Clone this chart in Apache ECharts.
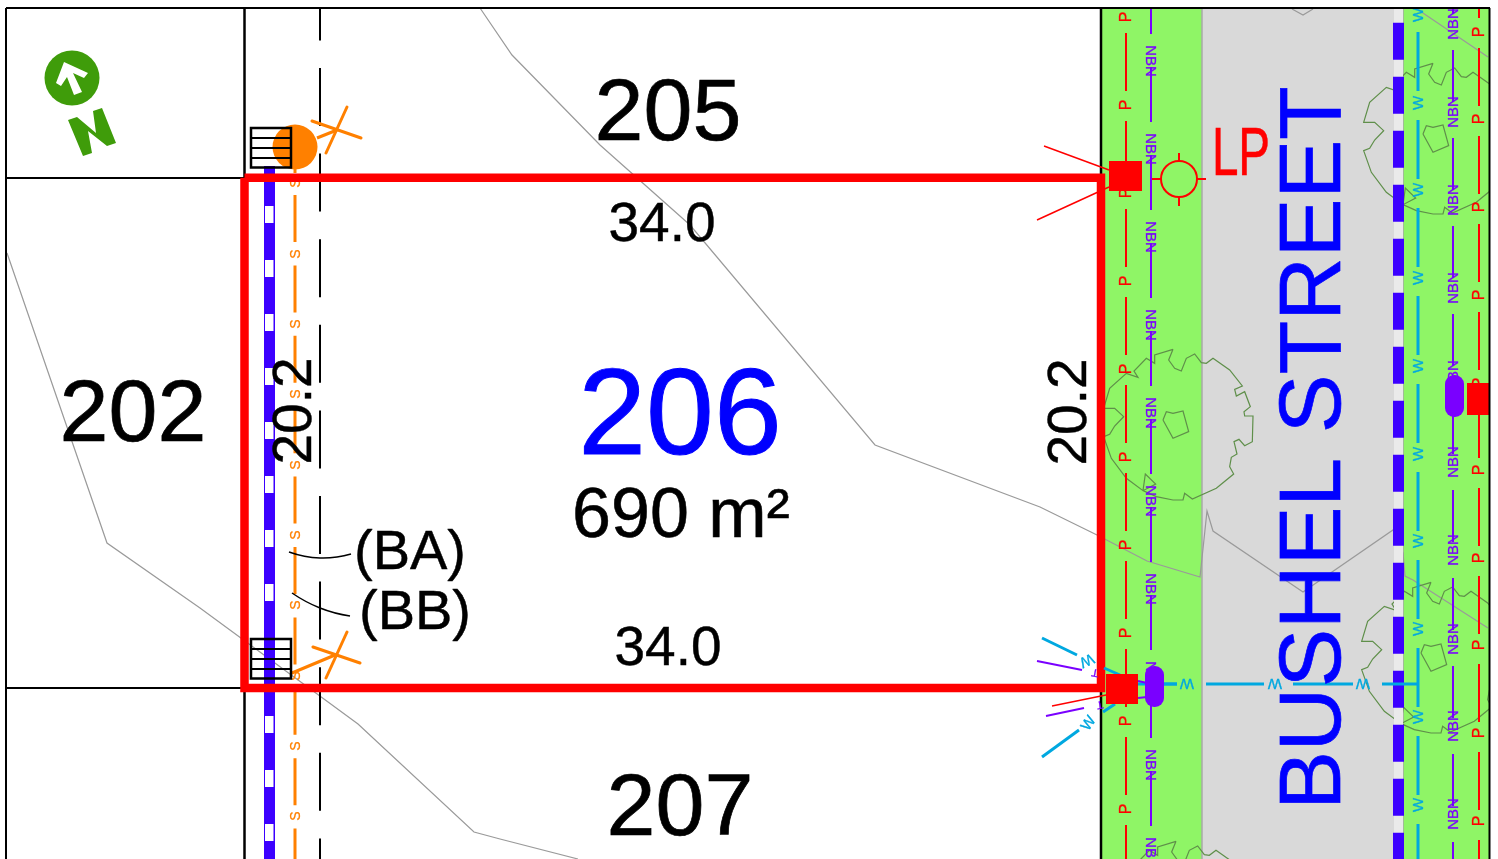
<!DOCTYPE html>
<html><head><meta charset="utf-8">
<style>html,body{margin:0;padding:0;background:#fff}#c{width:1498px;height:859px}</style>
<script src="https://cdn.jsdelivr.net/npm/echarts@6/dist/echarts.min.js"></script>
</head><body><div id="c"></div>
<script>
// ---- site plan data, in the sheet's own coordinates ----
const lotLabels = [['205',668,110],['202',133,411],['207',680,805]];
const frontageLabels = [['34.0',662,222],['34.0',668,646]];
const sideLabels = [['20.2',292,411],['20.2',1067,412]];
const easementLabels = [['(BA)',410,550],['(BB)',415,610]];
const leaderBA = [[289,552],[320,558],[351,554]];
const leaderBB = [[292,593],[320,608],[350,616]];
const lotBoundary = [[244.5,177.7],[1101,177.7],[1101,688],[244.5,688],[244.5,177.7]];
const contourA = [[480,8],[512,55],[600,145],[690,225],[875,445],[1040,507],[1097,535],[1147,561],[1200,577],[1207,511],[1213,531],[1303,592],[1393,530],[1403,553],[1405,576],[1413,580],[1488,628]];
const contourB = [[7,253],[107,543],[200,608],[358,724],[474,832],[500,839],[578,859]];
const contourC = [[1292,9],[1303,15],[1313,9]];
const contourD = [[1417,9],[1488,57]];
const treeOutline = [[520,148],[507,180],[525,205],[545,213],[560,175],[585,162],[605,188],[620,190],[640,175],[690,210],[728,258],[705,268],[710,288],[735,275],[752,320],[733,335],[735,348],[760,348],[758,425],[735,437],[718,418],[703,425],[712,462],[695,472],[690,500],[702,522],[650,565],[578,597],[555,580],[550,600],[520,600],[470,590],[430,572],[437,522],[468,552],[430,572],[380,535],[335,475],[312,410],[330,403],[345,378],[372,350],[345,325],[312,325],[330,265],[380,220],[415,232],[403,213],[440,175],[465,190],[465,165],[520,148]];
const treeCore = [[490,360],[500,335],[520,340],[550,333],[567,395],[520,415],[490,360]];
const treeCentres = [[1178,425],[1438,139],[1436,658],[1181,917]];
const leftP = [17,105,193,281,369,457,545,633,721,809];
const leftNBN = [61,149,237,325,413,501,589,677,765,853];
const rightP = [32,119,207,295,383,470,558,645,733,821];
const rightNBN = [24,112,200,288,376,462,550,639,726,814];
const rightW = [15,103,190,278,366,454,541,629,717,805];
const sewerS = [183,254,324,394,465,535,605,676,746,816];
const serviceW = [[1187,684],[1275,684],[1363,684]];
const blueGapsUpper = [206,260,314,368,422,476,530,584];
const blueGapsLower = [716,770,824];
const compassArrow = [[64,62],[88,73],[84,78],[73,73],[82,92],[74,95],[67,77],[61,86],[56,83]];
const compassN = [[68,120],[77,117],[96,133],[93,111],[102,108],[116,143],[107,146],[88,131],[92,153],[83,156]];

const RED='#ff0000',BLUE='#0000ff',DBLUE='#3c00ff',ORANGE='#ff8000',PUR='#7a00ff',CY='#00a8e0',GRN='#8ff566',GREY='#9a9a9a',TREE='#5f8f4a',COMP='#3f9c0a';
const FF='"Liberation Sans",Arial,sans-serif';

function build(api){
  const c=p=>api.coord(p);
  const out=[];
  const line=(pts,stroke,w,extra)=>out.push({type:'polyline',shape:{points:pts.map(c),smooth:(extra&&extra.smooth)||0},style:Object.assign({stroke,lineWidth:w,fill:null},extra&&extra.style)});
  const dash=(x,y0,d,stroke,w,cap)=>line([[x,y0],[x,900]],stroke,w,{style:{lineDash:d,lineCap:cap||'butt'}});
  const rect=(x0,y0,x1,y1,style,r)=>{const a=c([x0,y0]),b=c([x1,y1]);out.push({type:'rect',shape:{x:a[0],y:a[1],width:b[0]-a[0],height:b[1]-a[1],r:r||0},style})};
  const poly=(pts,fill)=>out.push({type:'polygon',shape:{points:pts.map(c)},style:{fill}});
  const circle=(x,y,r,style)=>{const a=c([x,y]);out.push({type:'circle',shape:{cx:a[0],cy:a[1],r},style})};
  // text is centred on its capital-letter box, so the em box is nudged along the letter's own "down"
  const text=(t,x,y,size,fill,rot,sx)=>{
    const r=rot||0,k=size*0.066;
    const a=c([x+Math.sin(r)*k,y+Math.cos(r)*k]);
    out.push({type:'text',x:a[0],y:a[1],rotation:r,scaleX:sx||1,style:{text:t,font:size+'px '+FF,fill,stroke:fill,lineWidth:Math.max(0.3,size*0.008),align:'center',verticalAlign:'middle',textAlign:'center',textVerticalAlign:'middle'}});
  };
  const UP=Math.PI/2,DOWN=-Math.PI/2;

  // ground
  rect(1101,8,1202,859,{fill:GRN});
  rect(1202,8,1403,859,{fill:'#d9d9d9'});
  rect(1403,8,1490,859,{fill:GRN});
  line([[1202,8],[1202,859]],'#a8a8a8',1.5);
  line([[1403,8],[1403,859]],'#a8a8a8',1.5);
  // contours
  [contourA,contourB,contourC,contourD].forEach(p=>line(p,GREY,1.2));
  // parcels
  line([[6,178],[245,178]],'#000',2);
  line([[6,688],[245,688]],'#000',2);
  line([[244.5,8],[244.5,859]],'#000',2.5);
  line([[1101,8],[1101,859]],'#000',2.5);
  // dashed easement
  dash(320,-17.6,[58,27.6],'#000',2);
  // trees
  treeCentres.forEach(t=>{
    const m=a=>a.map(p=>[t[0]+(p[0]-535)/3,t[1]+(p[1]-375)/3]);
    line(m(treeOutline),TREE,1.2);
    line(m(treeCore),TREE,1.2);
  });
  // left blue main
  rect(264,166,275,859,{fill:DBLUE});
  blueGapsUpper.forEach(y=>rect(265,y,273.5,y+17,{fill:'#fff'}));
  blueGapsLower.forEach(y=>rect(265,y,273.5,y+17,{fill:'#fff'}));
  // right blue main
  line([[1398.5,8],[1398.5,859]],'#eaeaea',9);
  dash(1398.5,22.7,[37,17],DBLUE,11);
  // sewer
  line([[295,168],[295,173]],ORANGE,3);
  dash(295,195,[47,23.4],ORANGE,3);
  sewerS.forEach(y=>text('S',295,y,14,ORANGE,UP));
  // left services
  dash(1126,33,[58,30],RED,2);
  leftP.forEach(y=>text('P',1126,y,16,RED,UP));
  dash(1151,-21,[55,33],PUR,2);
  leftNBN.forEach(y=>text('NBN',1151,y,15,PUR,DOWN));
  // right services
  dash(1418,32,[59,29],CY,3);
  rightW.forEach(y=>text('W',1418,y,15,CY,UP));
  dash(1453,-38,[52,36],PUR,2);
  rightNBN.forEach(y=>text('NBN',1453,y,15,PUR,UP));
  dash(1479,-40,[58,30],RED,2);
  rightP.forEach(y=>text('P',1479,y,16,RED,UP));
  // water service across the road
  [[1163,1177],[1206,1264],[1293,1353],[1382,1418]].forEach(s=>line([[s[0],684],[s[1],684]],CY,3));
  serviceW.forEach(p=>text('W',p[0],p[1],15,CY,Math.PI));
  // lot boundary
  line(lotBoundary,RED,8.5,{style:{lineJoin:'miter'}});
  // stubs at lower corner
  line([[1042,638],[1077,655]],CY,3);
  line([[1104,668],[1120,675]],CY,3);
  line([[1042,757],[1079,730]],CY,3);
  line([[1103,712],[1115,704]],CY,3);
  line([[1037,661],[1082,670]],PUR,2);
  line([[1046,716],[1084,708]],PUR,2);
  line([[1052,706],[1106,695]],RED,1.5);
  text('W',1087,661,15,CY,-2.7);
  text('W',1088,723,15,CY,-0.6-Math.PI/2+Math.PI);
  text('T',1095,673,11,PUR,Math.PI-0.2);
  text('T',1100,705,11,PUR,Math.PI+0.2);
  line([[1138,684],[1177,684]],CY,3);
  line([[1138,681],[1147,683]],PUR,2);
  line([[1138,698],[1147,697]],PUR,2);
  rect(1106,674,1138,704,{fill:RED});
  rect(1145,666,1164,707,{fill:PUR},9);
  // right-edge pit
  rect(1445,375,1464,417,{fill:PUR},9);
  rect(1467,383,1490,415,{fill:RED});
  // upper pit + light pole
  rect(1109,161,1142,191,{fill:RED});
  line([[1044,146],[1109,170]],RED,1.5);
  line([[1037,220],[1109,187]],RED,1.5);
  circle(1179,179,18,{fill:null,stroke:RED,lineWidth:2});
  line([[1179,153],[1179,161]],RED,2);
  line([[1179,197],[1179,206]],RED,2);
  line([[1152,179],[1161,179]],RED,2);
  line([[1197,179],[1206,179]],RED,2);
  text('LP',1241,152,68,RED,0,0.7);
  // orange sewer pit
  circle(295,147,22.5,{fill:ORANGE});
  line([[317,138],[337,130]],ORANGE,3);
  line([[312,121],[361,138]],ORANGE,3,{style:{lineCap:'round'}});
  line([[347,107],[326,153]],ORANGE,3,{style:{lineCap:'round'}});
  line([[292,673],[335,655]],ORANGE,3,{style:{lineCap:'round'}});
  line([[313,647],[360,663]],ORANGE,3,{style:{lineCap:'round'}});
  line([[347,632],[326,678]],ORANGE,3,{style:{lineCap:'round'}});
  // hatched boxes
  [[251,128],[251,639]].forEach(b=>{
    rect(b[0],b[1],b[0]+40,b[1]+39.5,{fill:null,stroke:'#000',lineWidth:2.5});
    [10,20,30].forEach(d=>line([[b[0],b[1]+d],[b[0]+40,b[1]+d]],'#000',2));
  });
  // leaders
  line(leaderBA,'#000',1.5,{smooth:0.5});
  line(leaderBB,'#000',1.5,{smooth:0.5});
  // compass
  circle(72,78,27.5,{fill:COMP});
  poly(compassArrow,'#fff');
  poly(compassN,COMP);
  // text
  lotLabels.forEach(l=>text(l[0],l[1],l[2],88,'#000'));
  text('206',680,412,122,BLUE);
  text('690 m²',681,513,70,'#000');
  frontageLabels.forEach(l=>text(l[0],l[1],l[2],55,'#000'));
  sideLabels.forEach(l=>text(l[0],l[1],l[2],55,'#000',UP));
  easementLabels.forEach(l=>text(l[0],l[1],l[2],56,'#000'));
  text('BUSHEL STREET',1310,448,88,BLUE,UP);
  // sheet edge
  rect(0,0,6,859,{fill:'#fff'});
  rect(1490,0,1498,859,{fill:'#fff'});
  rect(0,0,1498,8,{fill:'#fff'});
  line([[6,8],[1490,8]],'#000',2);
  line([[6,8],[6,859]],'#000',2);
  line([[1489.5,8],[1489.5,859]],'#000',2);
  return out;
}

const chart=echarts.init(document.getElementById('c'),null,{renderer:'canvas'});
chart.setOption({
  animation:false,
  grid:{left:0,right:0,top:0,bottom:0},
  xAxis:{type:'value',min:0,max:1498,show:false},
  yAxis:{type:'value',min:0,max:859,inverse:true,show:false},
  series:[{type:'custom',clip:false,silent:true,coordinateSystem:'cartesian2d',
    data:[[0,0]],
    renderItem:(p,api)=>({type:'group',children:build(api)})}]
});
</script></body></html>
